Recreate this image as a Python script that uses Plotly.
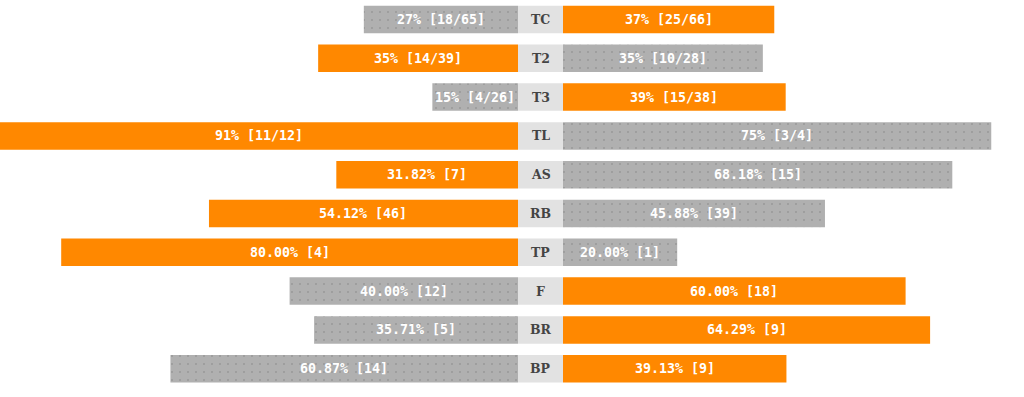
import plotly.graph_objects as go

categories = ["TC", "T2", "T3", "TL", "AS", "RB", "TP", "F", "BR", "BP"]
left_pct = [27, 35, 15, 91, 31.82, 54.12, 80.00, 40.00, 35.71, 60.87]
right_pct = [37, 35, 39, 75, 68.18, 45.88, 20.00, 60.00, 64.29, 39.13]
left_labels = ["27% [18/65]", "35% [14/39]", "15% [4/26]", "91% [11/12]", "31.82% [7]",
               "54.12% [46]", "80.00% [4]", "40.00% [12]", "35.71% [5]", "60.87% [14]"]
right_labels = ["37% [25/66]", "35% [10/28]", "39% [15/38]", "75% [3/4]", "68.18% [15]",
                "45.88% [39]", "20.00% [1]", "60.00% [18]", "64.29% [9]", "39.13% [9]"]
left_wins = [False, True, False, True, True, True, True, False, False, False]

ORANGE = "#ff8800"
GRAY = "#b0b0b0"
CENTER = "#e2e2e2"

W, H = 1024, 397
px_per_unit = 5.71
gap = 22.5 / px_per_unit
center_px = 540.5
x_range = [-center_px / px_per_unit, (W - center_px) / px_per_unit]
pitch = 38.8
y_top = -19.5 / pitch
y_range = [y_top + H / pitch, y_top]

ys = list(range(len(categories)))
lcol = [ORANGE if w else GRAY for w in left_wins]
rcol = [GRAY if w else ORANGE for w in left_wins]

def pat(cols):
    return dict(shape=["." if c == GRAY else "" for c in cols], fgcolor="#9c9c9c",
                bgcolor=cols, size=8, solidity=0.02)

fig = go.Figure()
bw = 0.71
fig.add_trace(go.Bar(y=ys, x=[-v for v in left_pct], base=[-gap] * len(ys), orientation="h",
                     width=bw, marker=dict(color=lcol, line=dict(width=0), pattern=pat(lcol)),
                     hoverinfo="skip"))
fig.add_trace(go.Bar(y=ys, x=right_pct, base=[gap] * len(ys), orientation="h",
                     width=bw, marker=dict(color=rcol, line=dict(width=0), pattern=pat(rcol)),
                     hoverinfo="skip"))
fig.add_trace(go.Bar(y=ys, x=[2 * gap] * len(ys), base=[-gap] * len(ys), orientation="h",
                     width=bw, marker=dict(color=CENTER, line=dict(width=0)),
                     hoverinfo="skip"))

vfont = dict(family="DejaVu Sans Mono", size=13.3, color="white")
annots = []
for i in ys:
    lx = max(-gap - left_pct[i], x_range[0])
    annots.append(dict(x=(-gap + lx) / 2, y=i, text="<b>" + left_labels[i] + "</b>",
                       showarrow=False, font=vfont, xanchor="center", yanchor="middle"))
    annots.append(dict(x=gap + right_pct[i] / 2, y=i, text="<b>" + right_labels[i] + "</b>",
                       showarrow=False, font=vfont, xanchor="center", yanchor="middle"))
    annots.append(dict(x=0, y=i, text="<b>" + categories[i] + "</b>", showarrow=False,
                       font=dict(family="DejaVu Serif", size=12.5, color="#444444"),
                       xanchor="center", yanchor="middle"))

fig.update_layout(
    width=W, height=H, margin=dict(l=0, r=0, t=0, b=0),
    paper_bgcolor="white", plot_bgcolor="white",
    showlegend=False, barmode="overlay", hovermode=False,
    xaxis=dict(range=x_range, visible=False, fixedrange=True),
    yaxis=dict(range=y_range, visible=False, fixedrange=True),
    annotations=annots,
)
fig.write_html("out.html", config={"displayModeBar": False, "staticPlot": True},
               post_script="document.body.style.margin='0';document.body.style.overflow='hidden';")
